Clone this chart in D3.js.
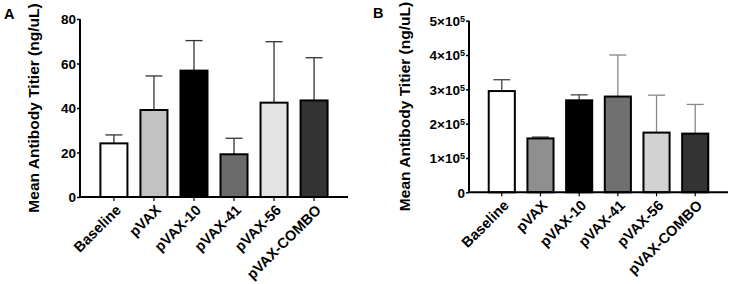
<!DOCTYPE html>
<html>
<head>
<meta charset="utf-8">
<script src="https://cdn.jsdelivr.net/npm/d3@7"></script>
<style>
  body { margin: 0; background: #fff; }
  svg text { font-family: "Liberation Sans", Arial, sans-serif; font-weight: bold; fill: #000; }
</style>
</head>
<body>
<svg id="chart" width="731" height="284"></svg>
<script>
const groups = ['Baseline', 'pVAX', 'pVAX-10', 'pVAX-41', 'pVAX-56', 'pVAX-COMBO'];

// panel A
const meanA = [24.1, 39.1, 56.8, 19.2, 42.4, 43.4];
const errA = [27.9, 54.4, 70.3, 26.4, 69.8, 62.6];
const fillA = ['#ffffff', '#c2c2c2', '#000000', '#6b6b6b', '#e3e3e3', '#333333'];
const ticksA = [0, 20, 40, 60, 80];

// panel B
const meanB = [295000, 157000, 268000, 279000, 174000, 171000];
const errB = [328000, 161000, 284000, 400000, 283000, 256000];
const fillB = ['#ffffff', '#8f8f8f', '#000000', '#707070', '#d2d2d2', '#333333'];
const errColB = ['#444', '#444', '#444', '#888', '#888', '#888'];
const ticksB = [0, 100000, 200000, 300000, 400000, 500000];

const svg = d3.select('#chart');

function drawPanel(opts) {
  const g = svg.append('g');
  const x = d3.scaleBand()
    .domain(groups)
    .range([opts.left, opts.right])
    .paddingInner(0.325)
    .paddingOuter(0.51);
  const y = d3.scaleLinear().domain([0, opts.max]).range([opts.bottom, opts.top]);

  // error bars (upper only)
  groups.forEach(function (name, i) {
    const cx = x(name) + x.bandwidth() / 2;
    const col = opts.errCol ? opts.errCol[i] : '#333';
    g.append('line')
      .attr('x1', cx).attr('x2', cx)
      .attr('y1', y(opts.mean[i])).attr('y2', y(opts.err[i]))
      .attr('stroke', col).attr('stroke-width', 1.3);
    g.append('line')
      .attr('x1', cx - 8.5).attr('x2', cx + 8.5)
      .attr('y1', y(opts.err[i])).attr('y2', y(opts.err[i]))
      .attr('stroke', col).attr('stroke-width', 1.3);
  });

  g.selectAll('rect.bar')
    .data(groups)
    .enter()
    .append('rect')
    .attr('class', 'bar')
    .attr('x', function (d) { return x(d); })
    .attr('width', x.bandwidth())
    .attr('y', function (d, i) { return y(opts.mean[i]); })
    .attr('height', function (d, i) { return opts.bottom - y(opts.mean[i]); })
    .attr('fill', function (d, i) { return opts.fill[i]; })
    .attr('stroke', '#000')
    .attr('stroke-width', 2);

  const yAxis = g.append('g')
    .attr('transform', 'translate(' + opts.left + ',0)')
    .call(d3.axisLeft(y).tickValues(opts.ticks).tickSize(3).tickPadding(2).tickFormat(''));
  yAxis.select('.domain').attr('stroke-width', 2).attr('d', 'M0,' + opts.top + 'V' + opts.bottom);
  yAxis.selectAll('.tick line').attr('stroke-width', 1.5);
  yAxis.selectAll('.tick').each(function (d) {
    const t = d3.select(this).append('text')
      .attr('x', -4).attr('dy', '0.36em')
      .attr('text-anchor', 'end')
      .style('font-size', '13.5px');
    if (d === 0 || !opts.sci) {
      t.text(d);
    } else {
      const m = d / 100000;
      t.text(m + '×10');
      t.append('tspan').attr('dy', '-0.45em').style('font-size', '9px').text('5');
    }
  });

  const xAxis = g.append('g')
    .attr('transform', 'translate(0,' + opts.bottom + ')')
    .call(d3.axisBottom(x).tickSize(4).tickSizeOuter(0));
  xAxis.select('.domain').attr('stroke-width', 2).attr('d', 'M' + opts.left + ',0H' + opts.right);
  xAxis.selectAll('.tick line').attr('stroke-width', 1.2);
  xAxis.selectAll('.tick text')
    .style('font-size', '14.5px')
    .attr('text-anchor', 'end')
    .attr('dy', null)
    .attr('y', 0)
    .attr('transform', 'translate(8,14) rotate(-45)');

  svg.append('text')
    .attr('transform', 'translate(' + opts.labelX + ',' + (opts.top + opts.bottom) / 2 + ') rotate(-90)')
    .attr('text-anchor', 'middle')
    .attr('dy', '0.35em')
    .style('font-size', '15.5px')
    .text('Mean Antibody Titier (ng/uL)');

  svg.append('text')
    .attr('x', opts.letterX).attr('y', opts.letterY)
    .style('font-size', '14.5px')
    .text(opts.letter);
}

drawPanel({
  left: 80, right: 348, top: 19, bottom: 197, max: 80,
  mean: meanA, err: errA, fill: fillA, ticks: ticksA,
  sci: false, labelX: 34, letterX: 4, letterY: 18.5, letter: 'A'
});

drawPanel({
  left: 469, right: 728, top: 20.7, bottom: 192.3, max: 500000,
  mean: meanB, err: errB, fill: fillB, errCol: errColB, ticks: ticksB,
  sci: true, labelX: 404.5, letterX: 373, letterY: 17.5, letter: 'B'
});
</script>
</body>
</html>
